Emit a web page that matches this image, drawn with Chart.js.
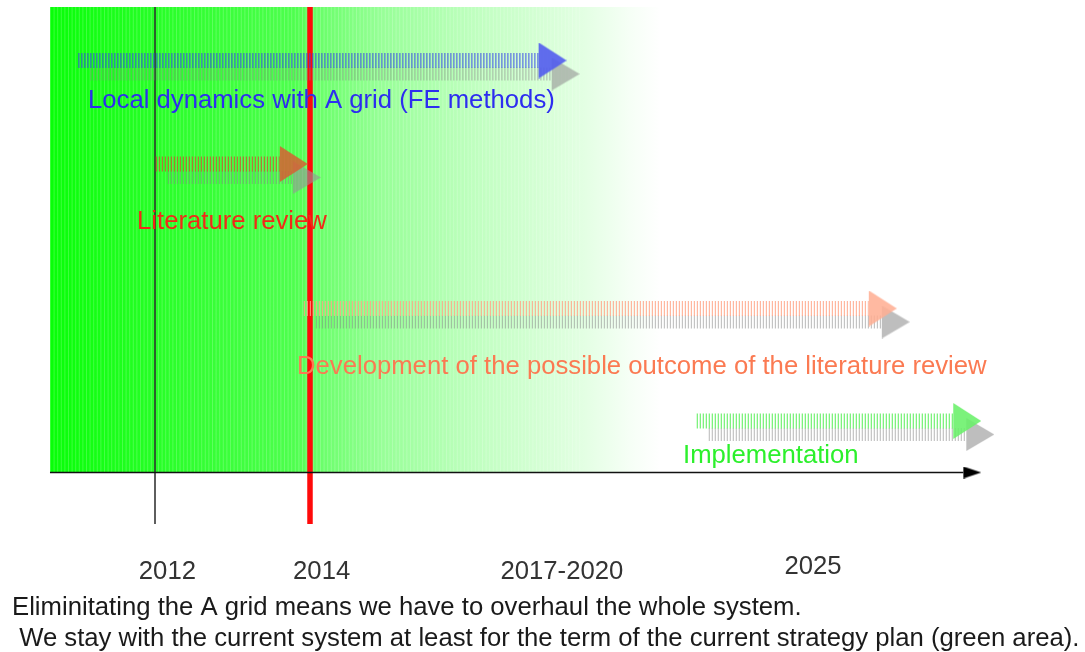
<!DOCTYPE html>
<html><head><meta charset="utf-8">
<script src="https://cdn.jsdelivr.net/npm/chart.js@4"></script>
<style>html,body{margin:0;padding:0;background:#fff;overflow:hidden}</style>
</head><body>
<canvas id="c" width="1085" height="652"></canvas>
<script>
// ---------------- data ----------------
const taskNames = [
  'Local dynamics with A grid (FE methods)',
  'Literature review',
  'Development of the possible outcome of the literature review',
  'Implementation'
];
const taskStart = [2011.01, 2012.01, 2013.92, 2018.99];   // where each arrow starts (timeline units)
const taskEnd   = [2016.95, 2013.61, 2021.21, 2022.30];   // where each arrow head begins
const taskLane  = [0.605, 1.64, 3.085, 4.21];             // row of each arrow
const labelStart = [2011.135, 2011.768, 2013.832, 2018.813];
const labelLane  = [1.08, 2.29, 3.74, 4.63];
const milestoneYears = [2012, 2014];
const tickLabels = ['2012', '2014', '2017-2020', '2025'];
const tickPos    = [2012.16, 2014.15, 2017.25, 2020.49];
const tickLane   = [5.79, 5.79, 5.79, 5.74];
const strategyStart = 2010.645, strategyEnd = 2018.52;   // green area (current strategy plan)
const laneTop = 0.07, laneAxis = 4.725, laneMilestoneEnd = 5.24;
const axisEnd = 2022.43;
const footnote = [
  'Eliminitating the A grid means we have to overhaul the whole system.',
  ' We stay with the current system at least for the term of the current strategy plan (green area).'
];
const footLane = [6.15, 6.46];

// ---------------- styles ----------------
const shaftColors = ['rgba(55,70,232,0.78)', 'rgba(205,85,50,0.78)', 'rgba(255,165,135,0.8)', 'rgba(90,238,90,0.85)'];
const headColors  = ['rgba(82,92,238,0.9)', 'rgba(215,95,50,0.85)', 'rgba(255,175,148,0.88)', 'rgba(105,240,105,0.88)'];
const textColors  = ['#2d2df0', '#f22a18', '#fb7a52', '#2cf02c'];
const shadowShaft = 'rgba(135,135,135,0.5)';
const shadowHead  = 'rgba(150,150,150,0.62)';
const shadowDx0 = 0.155, shadowDx1 = 0.168, shadowDy = 0.135;
const FONT = '"Liberation Sans", Arial, sans-serif';
const FONT_SIZE = 25.7;

function makeHead(color, L, H) {
  const c = document.createElement('canvas');
  c.width = 2 * L; c.height = H;
  const g = c.getContext('2d');
  g.fillStyle = color;
  g.beginPath(); g.moveTo(L, 0); g.lineTo(2 * L, H / 2); g.lineTo(L, H); g.closePath(); g.fill();
  return c;
}

const datasets = [];
// green strategy area
datasets.push({
  data: [{x: strategyStart, y: laneTop}, {x: strategyEnd, y: laneTop}],
  fill: {value: laneAxis}, borderWidth: 0, pointRadius: 0, order: 100,
  backgroundColor: (ctx) => {
    const chart = ctx.chart;
    if (!chart.chartArea) return 'rgba(0,255,0,0.5)';
    const xs = chart.scales.x;
    const x0 = xs.getPixelForValue(strategyStart), x1 = xs.getPixelForValue(strategyEnd);
    const g = chart.ctx.createLinearGradient(x0, 0, x1, 0);
    g.addColorStop(0, 'rgb(8,255,8)');
    g.addColorStop(0.17, 'rgb(38,255,38)');
    g.addColorStop(0.40, 'rgb(78,255,78)');
    g.addColorStop(0.43, 'rgb(100,255,100)');
    g.addColorStop(0.54, 'rgb(150,255,150)');
    g.addColorStop(0.69, 'rgb(190,255,190)');
    g.addColorStop(0.87, 'rgb(226,255,226)');
    g.addColorStop(0.95, 'rgb(246,255,246)');
    g.addColorStop(1, 'rgb(255,255,255)');
    return g;
  }
});
// faint vertical streaks in the green area
datasets.push({
  data: [{x: strategyStart, y: (laneTop + laneAxis) / 2}, {x: strategyEnd - 1.0, y: (laneTop + laneAxis) / 2}],
  borderColor: 'rgba(255,255,255,0.2)', borderWidth: 466, borderDash: [1, 2.6], borderCapStyle: 'butt',
  pointRadius: 0, fill: false, order: 95
});
// milestone lines
milestoneYears.forEach((yr, i) => {
  datasets.push({
    data: [{x: yr, y: laneTop}, {x: yr, y: laneMilestoneEnd}],
    borderColor: i === 0 ? '#2a2a2a' : '#ff0a0a', borderWidth: i === 0 ? 1.5 : 5.5,
    borderCapStyle: 'butt', pointRadius: 0, fill: false, order: 80
  });
});
// time axis
datasets.push({
  data: [{x: strategyStart, y: laneAxis}, {x: axisEnd, y: laneAxis}],
  borderColor: '#111', borderWidth: 1.5, fill: false, order: 70,
  pointRadius: (c) => c.dataIndex === 1 ? 6 : 0,
  pointStyle: makeHead('#000', 18, 12)
});
// arrows + shadows
taskNames.forEach((name, i) => {
  datasets.push({
    data: [{x: taskStart[i] + shadowDx0, y: taskLane[i] + shadowDy}, {x: taskEnd[i] + shadowDx1, y: taskLane[i] + shadowDy}],
    borderColor: shadowShaft, borderWidth: 13, borderDash: [1.2, 1.8], borderCapStyle: 'butt',
    fill: false, order: 60,
    pointRadius: (c) => c.dataIndex === 1 ? 10 : 0,
    pointStyle: makeHead(shadowHead, 28, 33)
  });
  datasets.push({
    label: name,
    data: [{x: taskStart[i], y: taskLane[i]}, {x: taskEnd[i], y: taskLane[i]}],
    borderColor: shaftColors[i], borderWidth: 15, borderDash: [1.2, 1.8], borderCapStyle: 'butt',
    fill: false, order: 50,
    pointRadius: (c) => c.dataIndex === 1 ? 10 : 0,
    pointStyle: makeHead(headColors[i], 28, 36)
  });
});

const textPlugin = {
  id: 'texts',
  afterDatasetsDraw(chart) {
    const {ctx, scales: {x, y}} = chart;
    ctx.save();
    ctx.font = FONT_SIZE + 'px ' + FONT;
    ctx.textBaseline = 'alphabetic';
    ctx.textAlign = 'left';
    taskNames.forEach((n, i) => {
      ctx.fillStyle = textColors[i];
      ctx.fillText(n, x.getPixelForValue(labelStart[i]), y.getPixelForValue(labelLane[i]));
    });
    ctx.textAlign = 'center';
    ctx.fillStyle = '#333';
    tickLabels.forEach((t, i) => {
      ctx.fillText(t, x.getPixelForValue(tickPos[i]), y.getPixelForValue(tickLane[i]));
    });
    ctx.textAlign = 'left';
    ctx.fillStyle = '#1a1a1a';
    footnote.forEach((t, i) => {
      ctx.fillText(t, x.getPixelForValue(2010.155), y.getPixelForValue(footLane[i]));
    });
    ctx.restore();
  }
};

new Chart(document.getElementById('c'), {
  type: 'line',
  data: {datasets},
  options: {
    responsive: false,
    animation: false,
    events: [],
    layout: {padding: 0, autoPadding: false},
    elements: {line: {tension: 0}},
    scales: {
      x: {type: 'linear', min: 2010, max: 2024, display: false},
      y: {type: 'linear', min: 0, max: 6.52, reverse: true, display: false}
    },
    plugins: {legend: {display: false}, tooltip: {enabled: false}, title: {display: false}}
  },
  plugins: [textPlugin]
});
</script>
</body></html>
